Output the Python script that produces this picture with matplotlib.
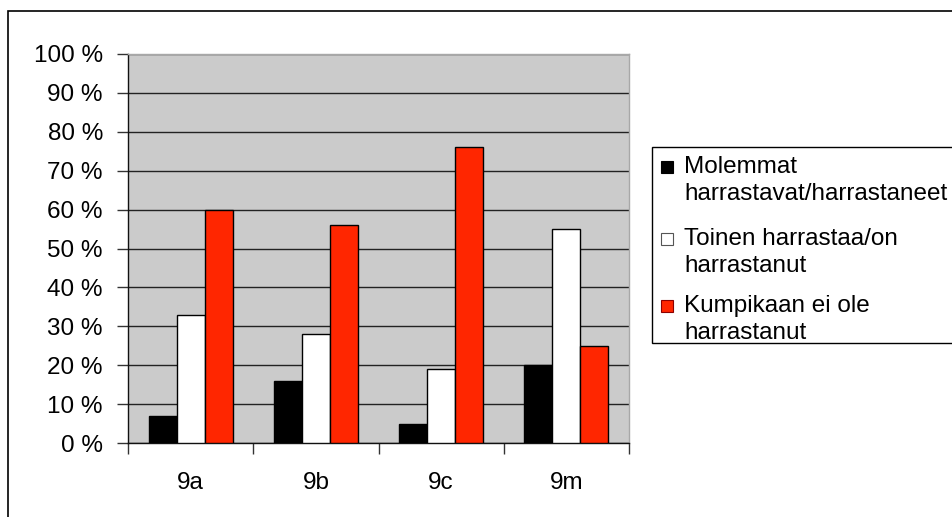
import matplotlib
matplotlib.use("Agg")
import matplotlib.pyplot as plt
from matplotlib.patches import Rectangle
import numpy as np

categories = ["9a", "9b", "9c", "9m"]
series_names = ["Molemmat\nharrastavat/harrastaneet",
                "Toinen harrastaa/on\nharrastanut",
                "Kumpikaan ei ole\nharrastanut"]
molemmat = [7, 16, 5, 20]
toinen = [33, 28, 19, 55]
kumpikaan = [60, 56, 76, 25]
yticks = [0, 10, 20, 30, 40, 50, 60, 70, 80, 90, 100]
ytick_labels = [f"{v} %" for v in yticks]

colors = ["#000000", "#FFFFFF", "#FF2600"]
edges = ["#000000", "#000000", "#000000"]

plt.rcParams['font.family'] = ['Liberation Sans', 'DejaVu Sans']
FS = 17.5

W, H = 953, 517
fig = plt.figure(figsize=(W / 100, H / 100), dpi=100)

def fx(x):
    return x / W

def fy(y):
    return 1 - y / H

# outer border
fig.add_artist(Rectangle((fx(8), fy(600)), fx(1000) - fx(8), fy(11) - fy(600),
                         transform=fig.transFigure, fill=False,
                         edgecolor="black", linewidth=1.2))

ax = fig.add_axes([fx(128), fy(443), fx(629) - fx(128), fy(54) - fy(443)])
ax.set_facecolor("#CBCBCB")

x = np.arange(len(categories))
bw = 0.224
data = [molemmat, toinen, kumpikaan]
for i, vals in enumerate(data):
    ax.bar(x + (i - 1) * bw, vals, width=bw, color=colors[i],
           edgecolor=edges[i], linewidth=1.0, zorder=3)

ax.set_ylim(0, 100)
ax.set_xlim(-0.5, len(categories) - 0.5)
ax.set_yticks(yticks)
ax.set_yticklabels(ytick_labels, fontsize=FS)
ax.yaxis.grid(True, color="#222222", linewidth=1.0, zorder=1)
ax.set_axisbelow(True)

ax.set_xticks(np.arange(-0.5, len(categories), 1.0))
ax.set_xticklabels([])
ax.set_xticks(x, minor=True)
ax.set_xticklabels(categories, minor=True, fontsize=FS)
ax.tick_params(axis='x', which='major', length=8, width=1, color="#333333")
ax.tick_params(axis='x', which='minor', length=0, pad=21)
ax.tick_params(axis='y', length=8, width=1, color="#333333", pad=10)

for s in ["left", "bottom"]:
    ax.spines[s].set_color("#111111")
    ax.spines[s].set_linewidth(1.0)
for s in ["top", "right"]:
    ax.spines[s].set_color("#A8A8A8")
    ax.spines[s].set_linewidth(1.0)

# legend (drawn manually)
fig.add_artist(Rectangle((fx(651.5), fy(343)), fx(1000) - fx(651.5), fy(146.7) - fy(343),
                         transform=fig.transFigure, facecolor="white",
                         edgecolor="black", linewidth=1.0))
item_tops = [158.3, 230.0, 296.7]
for i, name in enumerate(series_names):
    t = item_tops[i]
    sq_edge = "#555555" if i == 1 else ("#8B0000" if i == 2 else "black")
    fig.add_artist(Rectangle((fx(661), fy(t + 15)), fx(673) - fx(661), fy(t + 3) - fy(t + 15),
                             transform=fig.transFigure, facecolor=colors[i],
                             edgecolor=sq_edge, linewidth=0.8))
    fig.text(fx(684), fy(t - 2), name, fontsize=FS, va="top", ha="left",
             linespacing=1.3)

fig.savefig("out.png", dpi=100)
